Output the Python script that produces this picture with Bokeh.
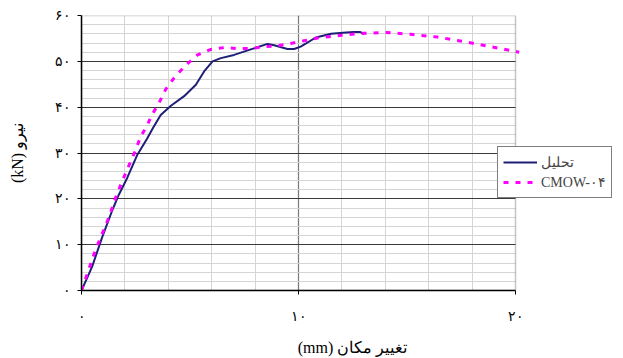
from bokeh.plotting import figure
from bokeh.models import FixedTicker, Range1d, Legend, LegendItem, BoxAnnotation
from bokeh.embed import file_html
from bokeh.resources import INLINE

# ---- data ----
analysis_x = [0, 0.49, 0.95, 1.41, 1.72, 2.1, 2.56, 3.02, 3.3, 3.65, 4.12, 4.73, 5.27, 5.65,
              6.04, 6.42, 7.03, 7.8, 8.57, 8.88, 9.49, 9.8, 10.1, 10.8, 11.5, 12.2, 12.56,
              12.85, 13.02]
analysis_y = [0, 5.2, 11.6, 17.4, 20.9, 24.5, 29.5, 33.1, 35.5, 38.3, 40.3, 42.4, 44.9, 47.8,
              50.0, 50.7, 51.4, 52.6, 53.8, 53.5, 52.7, 52.7, 53.2, 55.2, 56.0, 56.3, 56.4,
              56.4, 55.9]
test_x = [0, 0.64, 1.26, 1.57, 1.87, 2.26, 2.49, 2.72, 3.02, 3.27, 3.58, 3.88, 4.27, 4.81,
          5.35, 5.96, 6.57, 7.19, 7.8, 8.42, 9.03, 9.65, 10.26, 10.88, 11.49, 12.18, 12.87,
          14.02, 15.18, 16.4, 17.63, 18.86, 20.17]
test_y = [0, 8.8, 15.9, 20.2, 23.8, 28.1, 30.6, 33.5, 36.0, 38.5, 41.0, 43.9, 46.4, 49.2,
          51.4, 52.6, 53.0, 52.8, 52.8, 53.2, 53.4, 53.9, 54.5, 55.1, 55.4, 55.8, 56.1,
          56.3, 55.9, 55.3, 54.3, 53.2, 52.0]
series_names = ["تحلیل", "CMOW-۰۴"]
x_ticks = [0, 10, 20]
x_tick_labels = ["۰", "۱۰", "۲۰"]
y_ticks = [0, 10, 20, 30, 40, 50, 60]
y_tick_labels = ["۰", "۱۰", "۲۰", "۳۰", "۴۰", "۵۰", "۶۰"]
x_title = "تغییر مکان (mm)"
y_title = "نیرو (kN)"
X_MIN, X_MAX, Y_MIN, Y_MAX = 0, 20, 0, 60

RLE, PDF = "\u202b", "\u202c"   # right-to-left embedding, as in the original layout
FONT = "Liberation Serif"

# plot area spans 434 px for 0..20; the frame continues to the right edge so the
# legend (which straddles the plot border) is not clipped
FRAME_LEFT, FRAME_W, AREA_W = 81, 542, 434
x_end = X_MAX * FRAME_W / AREA_W

p = figure(width=623, height=358, output_backend="svg", toolbar_location=None,
           x_range=Range1d(X_MIN, x_end), y_range=Range1d(Y_MIN, Y_MAX),
           min_border_left=FRAME_LEFT, min_border_right=0, min_border_top=15,
           min_border_bottom=64)
p.background_fill_color = "white"
p.border_fill_color = "white"
p.outline_line_color = None

# axes
p.xaxis.ticker = FixedTicker(ticks=x_ticks)
p.xaxis.major_label_overrides = {t: l for t, l in zip(x_ticks, x_tick_labels)}
p.xaxis.bounds = (X_MIN, X_MAX)
p.yaxis.ticker = FixedTicker(ticks=y_ticks)
p.yaxis.major_label_overrides = {t: l for t, l in zip(y_ticks, y_tick_labels)}
for ax in (p.xaxis, p.yaxis):
    ax.axis_line_color = "black"
    ax.axis_line_width = 1.5
    ax.major_tick_line_color = "black"
    ax.major_tick_out = 4
    ax.major_tick_in = 0
    ax.minor_tick_line_color = None
    ax.major_label_text_font = FONT
    ax.major_label_text_font_size = "14px"
    ax.major_label_text_color = "black"
    ax.axis_label_text_font = FONT
    ax.axis_label_text_font_size = "16px"
    ax.axis_label_text_font_style = "normal"
    ax.axis_label_text_color = "black"
p.xaxis.axis_label = RLE + x_title + PDF
p.yaxis.axis_label = RLE + y_title + PDF
p.xaxis.major_label_standoff = 14
p.xaxis.axis_label_standoff = 12
p.yaxis.major_label_standoff = 7
p.yaxis.axis_label_standoff = 26
p.yaxis.major_label_orientation = "horizontal"

# grids
p.xgrid.ticker = FixedTicker(ticks=[10], minor_ticks=[2, 4, 6, 8, 12, 14, 16, 18])
p.xgrid.grid_line_color = "#7a7a7a"
p.xgrid.grid_line_width = 1.2
p.xgrid.minor_grid_line_color = "#d4d4d4"
p.ygrid.ticker = FixedTicker(ticks=[10, 20, 30, 40, 50],
                             minor_ticks=[v for v in range(2, 60, 2) if v % 10])
p.ygrid.grid_line_color = "#3a3a3a"
p.ygrid.grid_line_width = 1.2
p.ygrid.minor_grid_line_color = "#d4d4d4"

# blank out grid lines right of the plot area, then draw the plot-area border
p.add_layout(BoxAnnotation(left=X_MAX, fill_color="white", fill_alpha=1,
                           line_color=None, level="underlay"))
p.add_layout(BoxAnnotation(left=X_MIN, right=X_MAX, bottom=Y_MIN, top=Y_MAX,
                           fill_alpha=0, line_color="#404040", line_width=1.5,
                           level="underlay"))

r1 = p.line(analysis_x, analysis_y, line_color="#1f1f78", line_width=2)
r2 = p.line(test_x, test_y, line_color="#ff00ff", line_width=3, line_dash="5 7")

legend = Legend(items=[LegendItem(label=series_names[0], renderers=[r1]),
                       LegendItem(label=series_names[1], renderers=[r2])],
                location=(416, 92))
legend.border_line_color = "black"
legend.border_line_width = 1
legend.background_fill_color = "white"
legend.background_fill_alpha = 1
legend.label_text_font = FONT
legend.label_text_font_size = "14px"
legend.glyph_width = 34
legend.glyph_height = 20
legend.label_height = 20
legend.label_width = 60
legend.label_standoff = 4
legend.padding = 5
legend.spacing = 0
legend.margin = 0
p.add_layout(legend, "center")

open("out.html", "w").write(file_html(p, INLINE))
